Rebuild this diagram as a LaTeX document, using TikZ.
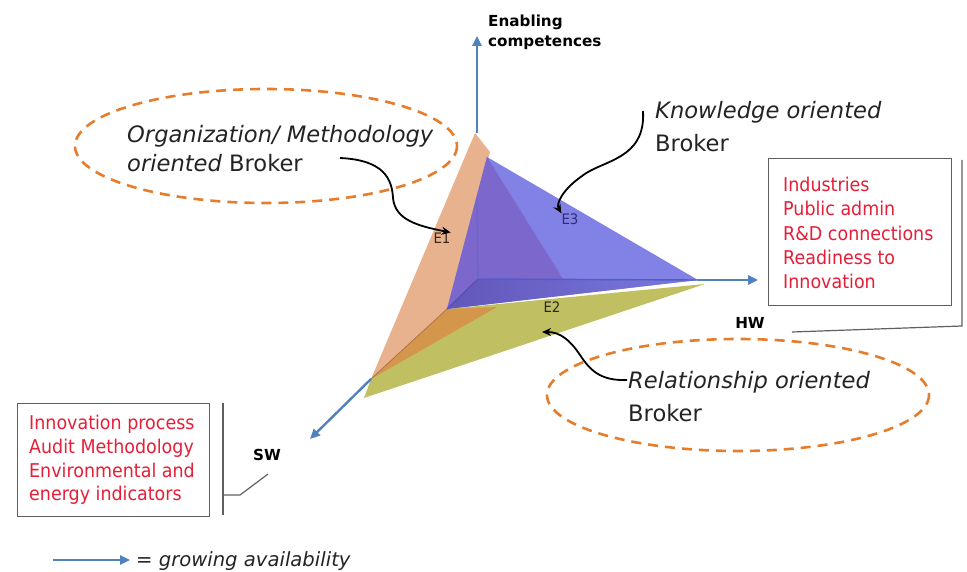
\documentclass[tikz,border=0pt]{standalone}
\usepackage{fontspec}
\setmainfont{DejaVu Sans}
\newfontfamily\tah[FakeStretch=0.92]{DejaVu Sans}
\usetikzlibrary{arrows.meta}
\definecolor{axisblue}{RGB}{79,129,189}
\definecolor{elorange}{RGB}{230,125,45}
\definecolor{faceor}{RGB}{233,178,143}
\definecolor{faceord}{RGB}{212,150,75}
\definecolor{facegr}{RGB}{192,192,98}
\definecolor{facebl}{RGB}{130,130,230}
\definecolor{facepu}{RGB}{124,104,204}
\definecolor{redtxt}{RGB}{230,30,55}
\definecolor{txt}{RGB}{35,35,35}
\definecolor{boxgray}{RGB}{95,95,95}
\begin{document}
\begin{tikzpicture}[x=1pt,y=-1pt,
  axis/.style={draw=axisblue, line width=2.4pt, -{Triangle[length=10pt,width=9pt]}},
  broker/.style={-{Stealth[length=9pt,width=8pt]}, line width=1.8pt, draw=black},
  oval/.style={draw=elorange, line width=2.6pt, dash pattern=on 10pt off 7pt},
  brk/.style={font=\fontsize{22.6}{26}\selectfont, text=txt, inner sep=0pt},
  axlab/.style={font=\fontsize{15.2}{18}\selectfont\bfseries, text=black, inner sep=0pt},
  redbox/.style={draw=boxgray, line width=1.2pt, fill=white},
  redtext/.style={font=\tah\fontsize{19}{24}\selectfont, text=redtxt, inner sep=0pt, anchor=base west},
  elab/.style={font=\tah\fontsize{14.5}{16}\selectfont, inner sep=0pt},
  callout/.style={draw=boxgray, line width=1.2pt}]
\useasboundingbox (0,0) rectangle (967,572);

% key points of the 3D figure
\coordinate (O) at (478,279);
\coordinate (Vtop) at (477,36);
\coordinate (Vbase) at (477,133);
\coordinate (Vin) at (477,198);
\coordinate (HWend) at (758,280);
\coordinate (SWend) at (310,439);
\coordinate (A) at (475,133);
\coordinate (P) at (490,152);
\coordinate (L) at (447,309);
\coordinate (B) at (371,379);
\coordinate (C) at (497,307);
\coordinate (T) at (487,157);
\coordinate (R) at (698,280);
\coordinate (M) at (563,279);
\coordinate (Rg) at (705,284);
\coordinate (Bg) at (364,398);

% faces
\fill[facegr] (Bg) -- (B) -- (L) -- (Rg) -- cycle;
\fill[faceor] (A) -- (P) -- (L) -- (B) -- cycle;
\fill[faceord] (L) -- (C) -- (B) -- cycle;
\fill[facebl] (T) -- (R) -- (L) -- cycle;
\fill[facepu] (T) -- (M) -- (O) -- (L) -- cycle;
\shade[left color={rgb,255:red,98;green,86;blue,186}, right color={rgb,255:red,122;green,122;blue,222}] (O) -- (R) -- (L) -- cycle;
\draw[line width=0.8pt, draw={rgb,255:red,175;green,115;blue,80}] (L) -- (B);
\draw[line width=1.4pt, draw={rgb,255:red,80;green,92;blue,200}] (O) -- (R);
\draw[line width=1.2pt, draw={rgb,255:red,88;green,78;blue,180}] (O) -- (L);
\draw[line width=1.2pt, draw={rgb,255:red,105;green,100;blue,210}] (O) -- (Vin);

% axes
\draw[axis] (Vbase) -- (Vtop);
\draw[axis] (R) -- (HWend);
\draw[axis] (B) -- (SWend);

% axis labels
\node[axlab, anchor=base west] (en1) at (488,27) {Enabling};
\node[axlab, anchor=base west] (en2) at (488,47) {competences};
\node[axlab] (hw) at (750,323) {HW};
\node[axlab] (sw) at (267,455) {SW};

% face labels
\node[elab, text={rgb,255:red,60;green,35;blue,20}] (e1) at (442,238) {E1};
\node[elab, text={rgb,255:red,45;green,45;blue,120}] (e3) at (570,219) {E3};
\node[elab, text={rgb,255:red,40;green,40;blue,30}] (e2) at (552,307) {E2};

% ovals
\draw[oval] (266,146) ellipse [x radius=191, y radius=57];
\draw[oval] (738,395) ellipse [x radius=191, y radius=56];

% broker texts
\node[brk, anchor=base west] (org1) at (127,143) {\itshape Organization/ Methodology};
\node[brk, anchor=base west] (org2) at (127,172) {{\itshape oriented} Broker};
\node[brk, anchor=base west] (kn1) at (655,119) {\itshape Knowledge oriented};
\node[brk, anchor=base west] (kn2) at (655,152) {Broker};
\node[brk, anchor=base west] (rel1) at (628,388) {\itshape Relationship oriented};
\node[brk, anchor=base west] (rel2) at (628,421) {Broker};

% curved arrows
\coordinate (s1) at (340,158);
\coordinate (s2) at (643,111);
\coordinate (s3) at (627,380);
\draw[broker] (s1) .. controls (385,160) and (392,180) .. (393,198)
   .. controls (395,220) and (418,226) .. (e1.north east);
\draw[broker] (s2) .. controls (646,160) and (602,160) .. (582,176)
   .. controls (562,190) and (556,204) .. (e3.north west);
\draw[broker] (s3) .. controls (600,381) and (590,370) .. (580,355)
   .. controls (570,340) and (560,332) .. (542,332);

% right box
\node[redbox, minimum width=183pt, minimum height=147pt, anchor=north west] (hwbox) at (768,158) {};
\node[redtext] (h1) at (783,192) {Industries};
\node[redtext] (h2) at (783,216) {Public admin};
\node[redtext] (h3) at (783,241) {R\&D connections};
\node[redtext] (h4) at (783,265) {Readiness to};
\node[redtext] (h5) at (783,289) {Innovation};
\coordinate (hc1) at (962,160);
\coordinate (hc2) at (962,326);
\coordinate (hc3) at (792,332);
\draw[callout] (hc1) -- (hc2) -- (hc3);

% left box
\node[redbox, minimum width=192pt, minimum height=113pt, anchor=north west] (swbox) at (17,403) {};
\node[redtext] (s1t) at (29,429) {Innovation process};
\node[redtext] (s2t) at (29,453) {Audit Methodology};
\node[redtext] (s3t) at (29,477) {Environmental and};
\node[redtext] (s4t) at (29,500) {energy indicators};
\coordinate (sc1) at (223,403);
\coordinate (sc2) at (223,515);
\coordinate (sc3) at (223,495);
\coordinate (sc4) at (240,495);
\coordinate (sc5) at (268,474);
\draw[callout] (sc1) -- (sc2);
\draw[callout] (sc3) -- (sc4) -- (sc5);

% legend
\coordinate (lg1) at (53,560);
\coordinate (lg2) at (130,560);
\draw[axis] (lg1) -- (lg2);
\node[brk, font=\fontsize{19.6}{23}\selectfont\itshape, anchor=base west] (lgt) at (136,566) {= growing availability};
\end{tikzpicture}
\end{document}
